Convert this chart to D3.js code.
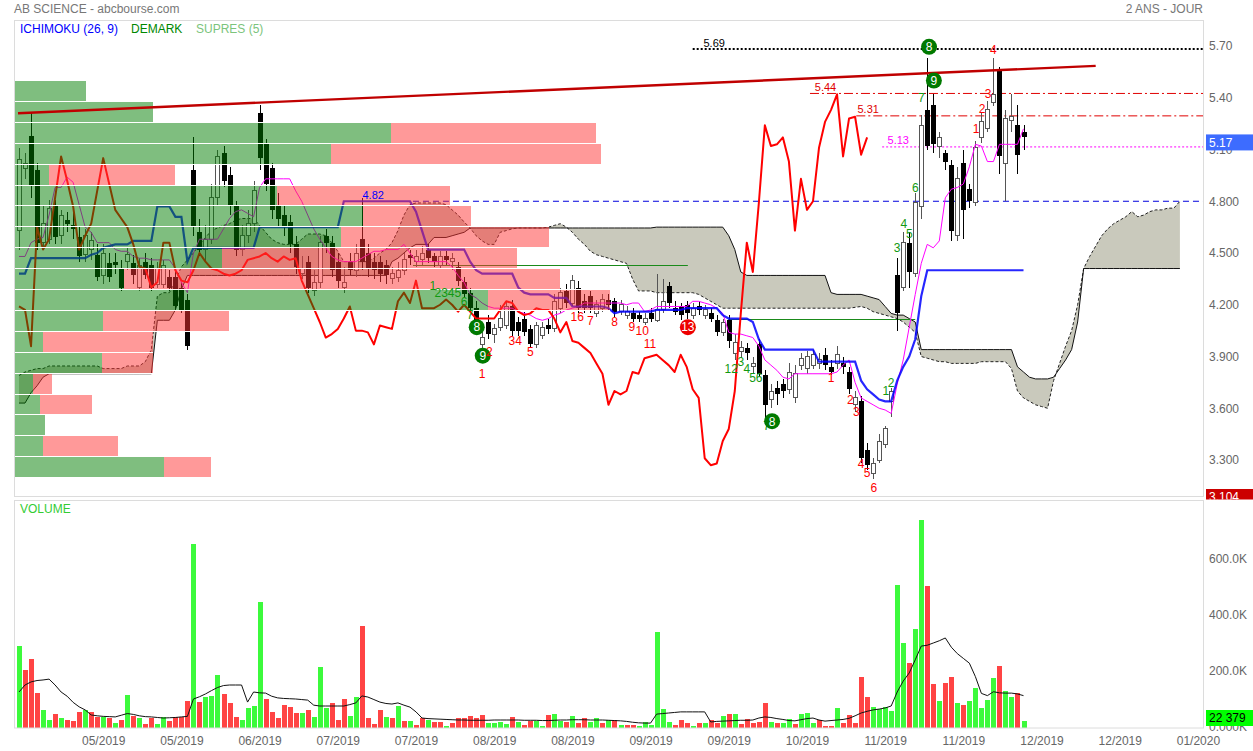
<!DOCTYPE html>
<html><head><meta charset="utf-8">
<script src="https://cdn.jsdelivr.net/npm/d3@7"></script>
<style>
html,body{margin:0;padding:0;background:#fff;}
svg{display:block;}
</style></head><body>
<svg id="c" width="1253" height="751"></svg>
<script>
// ---------------- DATA ----------------
const opens = [4.63,4.99,5.18,4.98,4.56,4.58,4.77,4.60,4.69,4.66,
 4.59,4.49,4.52,4.49,4.37,4.44,4.45,4.41,4.45,4.44,
 4.30,4.45,4.43,4.32,4.32,4.36,4.36,4.30,4.23,4.98,
 4.62,4.52,4.58,4.82,5.08,4.95,4.77,4.52,4.60,4.67,
 5.31,5.13,4.99,4.78,4.72,4.68,4.55,4.38,4.45,4.28,
 4.33,4.60,4.56,4.45,4.30,4.45,4.40,4.58,4.50,4.45,
 4.45,4.43,4.35,4.36,4.40,4.49,4.45,4.46,4.52,4.48,
 4.43,4.48,4.45,4.42,4.33,4.27,4.18,3.97,4.10,4.03,
 4.07,4.08,4.19,4.10,4.12,4.06,3.97,4.02,4.08,4.06,
 4.18,4.28,4.21,4.30,4.22,4.25,4.15,4.18,4.23,4.22,
 4.16,4.14,4.15,4.14,4.10,4.15,4.11,4.17,4.31,4.18,
 4.19,4.20,4.14,4.19,4.14,4.15,4.11,4.04,4.11,3.92,
 3.93,3.95,3.84,3.97,3.79,3.65,3.72,3.74,3.71,3.66,
 3.85,3.83,3.85,3.86,3.91,3.84,3.86,3.86,3.81,3.62,
 3.64,3.36,3.22,3.30,3.39,3.64,4.37,4.30,4.56,4.38,
 4.77,5.33,5.36,5.12,5.08,5.01,4.60,5.02,4.87,4.79,
 5.17,5.22,5.37,5.56,5.02,5.27,5.24,5.20];
const highs = [5.11,5.08,5.31,5.02,4.78,4.81,4.81,4.75,4.74,4.73,
 4.65,4.64,4.62,4.55,4.55,4.50,4.50,4.46,4.53,4.49,
 4.47,4.50,4.47,4.45,4.46,4.40,4.40,4.33,4.26,5.17,
 4.70,4.66,4.90,5.10,5.12,5.00,4.80,4.66,4.75,4.92,
 5.36,5.16,5.02,4.85,4.78,4.72,4.60,4.48,4.48,4.40,
 4.60,4.64,4.60,4.50,4.42,4.50,4.55,4.82,4.55,4.50,
 4.48,4.46,4.42,4.45,4.50,4.52,4.52,4.54,4.55,4.50,
 4.51,4.51,4.50,4.45,4.36,4.30,4.22,4.06,4.14,4.09,
 4.20,4.22,4.23,4.13,4.16,4.08,4.10,4.10,4.12,4.26,
 4.30,4.32,4.37,4.34,4.26,4.28,4.23,4.26,4.26,4.24,
 4.23,4.19,4.18,4.16,4.15,4.18,4.38,4.35,4.33,4.22,
 4.21,4.22,4.21,4.22,4.20,4.18,4.14,4.12,4.14,4.03,
 3.99,3.98,3.90,4.00,3.82,3.74,3.76,3.77,3.86,3.85,
 3.92,3.93,3.94,3.92,3.95,3.88,3.96,3.90,3.84,3.70,
 3.67,3.40,3.31,3.45,3.50,3.72,4.47,4.62,4.62,4.85,
 5.30,5.63,5.42,5.20,5.10,5.04,5.00,5.10,4.90,5.15,
 5.31,5.38,5.63,5.58,5.33,5.42,5.36,5.24];
const lows = [4.52,4.93,4.82,4.52,4.52,4.55,4.55,4.55,4.62,4.58,
 4.45,4.45,4.46,4.34,4.32,4.33,4.38,4.28,4.40,4.32,
 4.28,4.35,4.28,4.30,4.30,4.28,4.17,4.15,3.94,4.60,
 4.48,4.45,4.55,4.78,4.88,4.72,4.48,4.48,4.56,4.62,
 4.98,4.86,4.70,4.65,4.60,4.50,4.38,4.35,4.27,4.25,
 4.30,4.50,4.36,4.30,4.27,4.37,4.36,4.40,4.36,4.35,
 4.33,4.32,4.32,4.33,4.37,4.43,4.42,4.43,4.44,4.42,
 4.41,4.43,4.40,4.31,4.24,4.15,4.08,3.93,4.00,3.98,
 4.05,4.06,4.02,4.02,4.02,3.95,3.95,4.00,4.03,4.04,
 4.15,4.18,4.19,4.15,4.15,4.15,4.13,4.16,4.17,4.13,
 4.14,4.12,4.10,4.10,4.08,4.10,4.10,4.15,4.18,4.14,
 4.11,4.12,4.12,4.14,4.12,4.10,4.02,4.02,3.95,3.88,
 3.89,3.88,3.80,3.78,3.52,3.60,3.62,3.66,3.68,3.63,
 3.82,3.80,3.83,3.83,3.82,3.79,3.83,3.80,3.68,3.58,
 3.28,3.24,3.19,3.28,3.37,3.55,4.05,4.28,4.30,4.36,
 4.70,5.10,5.08,5.05,4.98,4.57,4.57,4.58,4.76,4.77,
 5.14,5.20,5.35,4.96,4.80,5.20,4.96,5.10];
const closes = [5.04,5.02,4.89,4.56,4.67,4.76,4.59,4.72,4.67,4.64,
 4.48,4.60,4.57,4.36,4.50,4.36,4.43,4.30,4.49,4.37,
 4.43,4.37,4.30,4.41,4.43,4.30,4.19,4.17,3.96,4.65,
 4.52,4.58,4.82,5.06,4.92,4.77,4.52,4.60,4.67,4.86,
 5.05,4.90,4.75,4.70,4.65,4.55,4.42,4.41,4.30,4.33,
 4.56,4.56,4.40,4.34,4.33,4.40,4.50,4.45,4.41,4.40,
 4.38,4.37,4.38,4.40,4.46,4.47,4.48,4.50,4.47,4.45,
 4.48,4.46,4.47,4.34,4.26,4.18,4.10,4.01,4.03,4.06,
 4.12,4.19,4.05,4.05,4.04,3.97,4.08,4.07,4.06,4.22,
 4.27,4.21,4.34,4.18,4.18,4.18,4.20,4.23,4.20,4.16,
 4.20,4.16,4.12,4.12,4.12,4.12,4.17,4.22,4.21,4.16,
 4.14,4.15,4.18,4.17,4.17,4.12,4.04,4.10,3.99,3.98,
 3.95,3.92,3.86,3.80,3.62,3.70,3.68,3.70,3.81,3.80,
 3.89,3.90,3.91,3.88,3.85,3.81,3.91,3.84,3.71,3.66,
 3.31,3.27,3.28,3.41,3.48,3.70,4.15,4.56,4.39,4.79,
 5.24,5.12,5.13,5.17,5.03,4.63,4.93,4.75,4.80,5.11,
 5.26,5.33,5.42,5.06,5.28,5.29,5.07,5.17];

// volume in thousands of shares
const volumes = [289,204,243,121,61,25,46,32,25,21,
 54,61,54,36,36,32,14,25,114,39,
 32,11,32,11,36,21,36,36,93,654,
 89,107,111,186,118,86,36,25,68,75,
 446,100,54,32,79,71,50,50,61,36,
 214,68,86,25,100,39,107,361,32,11,
 61,36,32,75,21,21,7,32,25,18,
 18,4,14,32,32,39,32,43,14,14,
 18,11,36,18,7,21,21,2,43,46,
 21,18,39,14,32,18,32,14,25,25,
 7,7,7,2,18,7,339,64,18,7,
 25,14,2,14,14,25,14,39,46,46,
 11,29,14,18,86,18,14,14,29,11,
 46,50,14,25,4,2,68,14,43,14,
 179,107,71,64,71,57,507,300,229,350,
 739,504,154,93,157,179,86,79,93,139,
 68,96,175,218,129,107,121,22];
const volumeUp = "GRRRGGRGRR"+"RGRRGRGRGR"+"GRRGGRRRRG"+"RGGGRRRGGG"+"GRRRRRRGRG"+
 "GGRRRGGRRR"+"RGRGRGRRGR"+"RGRRRRRRGG"+"GGRGRRGGRG"+"GRGRRGGRGR"+
 "GRRGGGGGGR"+"RRGRGRRGRG"+"RRRRRGRGGR"+"GGGRRRGRRR"+"RRGGGGGGRG"+
 "GRRGRRGRGG"+"GGGRGGRG";
const volumeMA = [125,150,161,166,168,171,150,125,110,88,
 72,61,43,40,38,37,36,42,48,45,
 40,37,36,34,32,33,34,36,38,100,
 108,118,130,141,148,150,150,150,89,125,
 122,121,110,104,102,101,100,98,96,78,
 75,75,75,75,75,80,86,111,107,98,
 89,84,82,86,78,71,54,32,30,29,
 28,27,26,25,25,24,24,24,24,25,
 25,25,25,25,24,24,24,23,23,24,
 25,25,26,26,26,25,25,25,24,23,
 22,20,17,15,14,14,46,48,50,52,
 54,54,54,54,54,18,20,21,22,23,
 24,24,25,32,36,34,30,27,23,22,
 26,30,32,25,21,23,25,27,31,40,
 50,56,61,64,68,75,125,164,193,240,
 289,292,300,308,318,285,262,245,228,180,
 120,112,126,122,121,121,118,112];

// Ichimoku (26, 9)
const tenkan = [4.48,4.48,4.56,4.58,4.59,4.72,4.88,4.88,4.94,4.91,
 4.78,4.65,4.62,4.56,4.56,4.56,4.52,4.51,4.51,4.48,
 4.47,4.47,4.46,4.46,4.46,4.46,4.41,4.33,4.27,4.50,
 4.58,4.58,4.58,4.58,4.64,4.70,4.74,4.75,4.73,4.71,
 4.88,4.93,4.93,4.93,4.93,4.93,4.86,4.80,4.72,4.64,
 4.58,4.53,4.48,4.46,4.45,4.45,4.45,4.47,4.49,4.51,
 4.51,4.52,4.52,4.52,4.55,4.50,4.45,4.45,4.45,4.45,
 4.45,4.45,4.42,4.37,4.33,4.26,4.24,4.21,4.19,4.18,
 4.18,4.18,4.18,4.16,4.15,4.14,4.12,4.11,4.12,4.14,
 4.15,4.17,4.18,4.19,4.21,4.21,4.21,4.21,4.21,4.21,
 4.21,4.20,4.21,4.21,4.16,4.17,4.19,4.19,4.19,4.19,
 4.19,4.19,4.22,4.22,4.21,4.20,4.18,4.15,4.04,4.03,
 4.03,4.02,4.01,3.96,3.88,3.85,3.82,3.78,3.77,3.80,
 3.80,3.80,3.80,3.80,3.80,3.80,3.81,3.85,3.88,3.75,
 3.66,3.64,3.62,3.60,3.59,3.57,3.74,3.88,4.07,4.26,
 4.44,4.55,4.53,4.57,4.82,4.87,4.88,4.90,5.00,5.13,
 5.12,5.03,5.03,5.13,5.13,5.13,5.13,5.22];
const kijun = [4.38,4.38,4.47,4.47,4.47,4.47,4.47,4.47,4.47,4.47,
 4.47,4.47,4.49,4.50,4.53,4.54,4.55,4.55,4.55,4.57,
 4.57,4.57,4.57,4.77,4.77,4.77,4.71,4.71,4.45,4.53,
 4.53,4.53,4.53,4.53,4.53,4.53,4.53,4.53,4.53,4.53,
 4.65,4.65,4.65,4.65,4.65,4.65,4.65,4.65,4.65,4.65,
 4.65,4.65,4.65,4.65,4.80,4.80,4.80,4.80,4.80,4.80,
 4.80,4.80,4.80,4.80,4.80,4.80,4.74,4.63,4.52,4.52,
 4.52,4.52,4.52,4.52,4.52,4.45,4.40,4.38,4.38,4.38,
 4.38,4.38,4.38,4.30,4.27,4.26,4.26,4.26,4.26,4.24,
 4.24,4.24,4.19,4.19,4.19,4.19,4.19,4.19,4.18,4.15,
 4.16,4.16,4.16,4.16,4.16,4.16,4.17,4.17,4.17,4.17,
 4.17,4.18,4.18,4.18,4.18,4.18,4.18,4.14,4.12,4.12,
 4.12,4.12,4.10,4.00,3.94,3.94,3.94,3.94,3.94,3.94,
 3.94,3.94,3.94,3.87,3.87,3.87,3.87,3.87,3.87,3.87,
 3.76,3.71,3.68,3.65,3.64,3.64,3.76,3.84,3.90,4.00,
 4.25,4.40,4.40,4.40,4.40,4.40,4.40,4.40,4.40,4.40,
 4.40,4.40,4.40,4.40,4.40,4.40,4.40,4.40];
// senkou spans, already displaced 26 periods forward (index 0..193)
const senkouA = [3.79,3.81,3.82,3.83,3.83,3.845,3.845,3.845,3.845,3.845,
 3.845,3.845,3.845,3.845,3.83,3.83,3.83,3.83,3.845,3.845,
 3.845,3.87,3.94,4.25,4.27,4.27,4.34,4.42,4.46,4.50,
 4.55,4.59,4.63,4.645,4.66,4.67,4.69,4.70,4.70,4.70,
 4.66,4.62,4.58,4.56,4.55,4.55,4.55,4.58,4.61,4.61,
 4.61,4.60,4.56,4.51,4.45,4.45,4.45,4.45,4.45,4.47,
 4.50,4.52,4.56,4.63,4.72,4.78,4.79,4.79,4.79,4.79,
 4.79,4.78,4.75,4.72,4.68,4.645,4.60,4.57,4.55,4.55,
 4.62,4.63,4.64,4.645,4.645,4.645,4.645,4.645,4.65,4.66,
 4.67,4.65,4.62,4.58,4.55,4.51,4.49,4.48,4.47,4.46,
 4.45,4.44,4.35,4.28,4.28,4.28,4.27,4.27,4.27,4.27,
 4.27,4.27,4.27,4.26,4.24,4.22,4.20,4.18,4.18,4.18,
 4.18,4.18,4.18,4.18,4.18,4.18,4.18,4.18,4.18,4.18,
 4.18,4.18,4.18,4.18,4.18,4.18,4.18,4.18,4.18,4.185,
 4.19,4.18,4.16,4.15,4.14,4.13,4.12,4.10,4.07,4.04,
 3.90,3.89,3.88,3.87,3.87,3.86,3.86,3.86,3.86,3.86,
 3.87,3.87,3.87,3.87,3.87,3.83,3.70,3.66,3.64,3.62,
 3.61,3.60,3.76,3.86,3.96,4.05,4.20,4.41,4.48,4.54,
 4.60,4.64,4.67,4.69,4.71,4.74,4.71,4.72,4.74,4.75,
 4.75,4.76,4.76,4.80];
const senkouB = [3.63,3.63,3.69,3.73,3.78,3.80,3.80,3.80,3.80,3.80,
 3.80,3.80,3.80,3.80,3.80,3.80,3.80,3.80,3.80,3.80,
 3.80,3.80,3.80,4.11,4.11,4.11,4.17,4.29,4.37,4.37,
 4.37,4.37,4.37,4.37,4.37,4.37,4.37,4.37,4.37,4.37,
 4.37,4.37,4.37,4.37,4.37,4.37,4.37,4.37,4.37,4.37,
 4.37,4.37,4.37,4.37,4.37,4.37,4.37,4.37,4.37,4.37,
 4.37,4.37,4.45,4.47,4.50,4.53,4.55,4.55,4.55,4.59,
 4.59,4.59,4.60,4.61,4.62,4.645,4.645,4.645,4.645,4.645,
 4.645,4.645,4.645,4.645,4.645,4.645,4.645,4.645,4.645,4.645,
 4.645,4.645,4.645,4.645,4.645,4.645,4.645,4.645,4.645,4.645,
 4.645,4.645,4.645,4.645,4.645,4.645,4.65,4.65,4.65,4.65,
 4.65,4.65,4.65,4.65,4.65,4.65,4.65,4.65,4.60,4.52,
 4.39,4.37,4.37,4.37,4.37,4.37,4.37,4.37,4.37,4.37,
 4.37,4.37,4.37,4.37,4.37,4.27,4.26,4.26,4.26,4.26,
 4.26,4.25,4.24,4.23,4.19,4.15,4.14,4.14,4.12,4.10,
 3.94,3.94,3.94,3.94,3.94,3.94,3.94,3.94,3.94,3.94,
 3.94,3.94,3.94,3.94,3.94,3.94,3.84,3.81,3.78,3.77,
 3.77,3.77,3.78,3.83,3.88,3.94,4.10,4.41,4.41,4.41,
 4.41,4.41,4.41,4.41,4.41,4.41,4.41,4.41,4.41,4.41,
 4.41,4.41,4.41,4.41];
const chikouShift = 26;

// Volume-at-price profile (SUPRES), bins from the top price downward, thousands of shares
const profileTop = 5.503;
const profileStep = 0.1212;
const profileUp   = [720,1390,3770,3170,350,2630,3490,3270,2080,1100,4740,890,290,880,190,260,310,290,1500];
const profileDown = [0,0,2050,2700,1260,1730,1080,2080,2950,4360,1220,1260,1100,510,190,520,0,750,470];

// support/resistance levels (line value, label)
const levelValues = [5.682, 5.425, 5.295, 5.115, 4.80];
const levelLabels = ["5.69","5.44","5.31","5.13","4.82"];
const levelStart  = [112, 131.5, 139.2, 143.5, 65.5];
const levelLabelAt= [113.8, 132.3, 139.4, 144.4, 57.1];
// DeMark TDST lines
const tdstValues = [4.43, 4.12];
const tdstFrom = [65.5, 117.9];
const tdstTo = [111.2, 149];
// trend line (index, price)
const trendFrom = [0, 5.31];
const trendTo = [179, 5.585];

// DeMark counts: [index, price, text, colour, circled]
const demark = [[68.8,4.31,'1','g',0],[71.3,4.27,'2345','g',0],[74,4.22,'6','g',0],[75,4.14,'7','g',0],
 [76.1,4.07,'8','g',1],[77.1,3.905,'9','g',1],[78.2,3.93,'2','r',0],[77,3.80,'1','r',0],[82.5,3.99,'34','r',0],
 [85,3.93,'5','r',0],[92.8,4.13,'16','r',0],[95,4.11,'7','r',0],[99,4.10,'8','r',0],[101.9,4.07,'9','r',0],
 [103.6,4.05,'10','r',0],[104.9,3.975,'11','r',0],[111.2,4.07,'13','r',1],[118.4,3.83,'12','g',0],
 [120,3.87,'3','g',0],[121,3.83,'4','g',0],[122.5,3.78,'56','g',0],[124.3,3.50,'7','g',0],[125.2,3.525,'8','g',1],
 [135,3.78,'1','r',0],[138.2,3.65,'2','r',0],[139.2,3.58,'3','r',0],[140,3.28,'4','r',0],[141,3.225,'5','r',0],
 [142.1,3.14,'6','r',0],[144.1,3.70,'1','g',0],[145,3.75,'2','g',0],[146,4.53,'3','g',0],[147.1,4.67,'4','g',0],
 [148,4.61,'5','g',0],[149,4.88,'6','g',0],[150,5.40,'7','g',0],[151.3,5.695,'8','g',1],[152.1,5.50,'9','g',1],
 [159.1,5.22,'1','r',0],[160.1,5.335,'2','r',0],[161.1,5.425,'3','r',0],[162,5.68,'4','r',0]];

// axes
const yTickValues = [5.70,5.40,5.10,4.80,4.50,4.20,3.90,3.60,3.30];
const yTickLabels = ["5.70","5.40","5.10","4.800","4.500","4.200","3.900","3.600","3.300"];
const vTickValues = [600,400,200,0];
const vTickLabels = ["600.0K","400.0K","200.0K","0.000K"];
const xTickIndex = [14,27,40,53,66,79,92,105,118,131,144,157,170,183,196];
const xTickLabels = ["05/2019","05/2019","06/2019","07/2019","07/2019","08/2019","08/2019","09/2019",
 "09/2019","10/2019","11/2019","11/2019","12/2019","12/2019","01/2020"];
const lastPriceLabel = "5.17";
const minPriceLabel = "3.104";
const lastVolumeLabel = "22 379";

// ---------------- DRAW ----------------
const FONT = '"Liberation Sans", Arial, Helvetica, sans-serif';
const svg = d3.select('#c').style('font-family', FONT);
const M = {l:14, r:1204, t:20, b:496};
const V = {t:500, b:728};
const x = d3.scaleLinear().domain([0,196]).range([19, 19 + 196*6.015]);
const y = d3.scaleLinear().domain([3.30,5.70]).range([460,46]);
const yv = d3.scaleLinear().domain([0,600]).range([727,559]);
const pw = d3.scaleLinear().domain([0,10000]).range([0,1000]);
const cx = i => Math.round(x(i));

const defs = svg.append('defs');
defs.append('clipPath').attr('id','cm').append('rect')
  .attr('x',M.l).attr('y',M.t).attr('width',M.r-M.l).attr('height',M.b-M.t);
defs.append('clipPath').attr('id','cv').append('rect')
  .attr('x',M.l).attr('y',V.t).attr('width',M.r-M.l).attr('height',V.b-V.t);
defs.append('clipPath').attr('id','cbox').append('rect')
  .attr('x',1190).attr('y',480).attr('width',70).attr('height',19.5);

const gM = svg.append('g').attr('clip-path','url(#cm)');

// cloud
const kAll = d3.range(senkouA.length);
gM.append('path')
  .attr('d', d3.area().x(k=>x(k)).y0(k=>y(senkouB[k])).y1(k=>y(senkouA[k]))(kAll))
  .attr('fill','#c9c9bc');
gM.append('path').attr('d', d3.line().x(k=>x(k)).y(k=>y(senkouA[k]))(kAll))
  .attr('fill','none').attr('stroke','#222').attr('stroke-width',1).attr('stroke-dasharray','3,2');
gM.append('path').attr('d', d3.line().x(k=>x(k)).y(k=>y(senkouB[k]))(kAll))
  .attr('fill','none').attr('stroke','#111').attr('stroke-width',1);

// levels
const levelStyle = [
  {c:'#000', w:2, d:'2,2'}, {c:'#e00000', w:1, d:'9,3,2,3'}, {c:'#e00000', w:1, d:'9,3,2,3'},
  {c:'#ff00ff', w:1, d:'2,2'}, {c:'#0000dd', w:1, d:'6,4'}];
levelValues.forEach((v,j)=>{
  gM.append('line').attr('x1',x(levelStart[j])).attr('x2',M.r).attr('y1',y(v)).attr('y2',y(v))
    .attr('stroke',levelStyle[j].c).attr('stroke-width',levelStyle[j].w).attr('stroke-dasharray',levelStyle[j].d);
});
tdstValues.forEach((v,j)=>{
  gM.append('line').attr('x1',x(tdstFrom[j])).attr('x2',x(tdstTo[j])).attr('y1',Math.round(y(v))+0.5).attr('y2',Math.round(y(v))+0.5)
    .attr('stroke','#1a8a1a').attr('stroke-width',1);
});

// candles
const gC = gM.append('g').attr('shape-rendering','crispEdges');
closes.forEach((c,i)=>{
  const o = opens[i], up = c >= o, X = cx(i);
  gC.append('line').attr('x1',X+0.5).attr('x2',X+0.5).attr('y1',y(highs[i])).attr('y2',y(lows[i]))
    .attr('stroke', up ? '#555' : '#000').attr('stroke-width',1);
  const top = y(Math.max(o,c)), h = Math.max(1, Math.abs(y(o)-y(c)));
  if (up) {
    gC.append('rect').attr('x',X-1.5).attr('y',top).attr('width',4).attr('height',h)
      .attr('fill','#fff').attr('stroke','#555').attr('stroke-width',1);
  } else {
    gC.append('rect').attr('x',X-2).attr('y',top).attr('width',5).attr('height',h).attr('fill','#000');
  }
});

// tenkan, kijun, chikou
gM.append('path').attr('d', d3.line().x((d,k)=>x(k)).y(d=>y(d))(tenkan))
  .attr('fill','none').attr('stroke','#ff00ff').attr('stroke-width',1);
gM.append('path').attr('d', d3.line().x((d,k)=>x(k)).y(d=>y(d))(kijun))
  .attr('fill','none').attr('stroke','#0000ff').attr('stroke-width',2.2).attr('stroke-opacity',0.85);
const chikou = closes.slice(chikouShift).map((c,j)=>[j,c]);
gM.append('path').attr('d', d3.line().x(d=>x(d[0])).y(d=>y(d[1]))(chikou))
  .attr('fill','none').attr('stroke','#ff0000').attr('stroke-width',2).attr('stroke-linejoin','round');

// volume profile overlay
const gP = gM.append('g').attr('shape-rendering','crispEdges');
const rowW = r => (r<0||r>=profileUp.length) ? 0 : pw(profileUp[r]+profileDown[r]);
profileUp.forEach((u,r)=>{
  const yt = Math.round(y(profileTop - r*profileStep));
  const yb = Math.round(y(profileTop - (r+1)*profileStep));
  gP.append('rect').attr('x',M.l).attr('y',yt+1).attr('width',pw(u)).attr('height',yb-yt-1)
    .attr('fill','rgb(0,125,0)').attr('fill-opacity',0.5);
  if (profileDown[r] > 0)
    gP.append('rect').attr('x',M.l+pw(u)).attr('y',yt+1).attr('width',pw(profileDown[r])).attr('height',yb-yt-1)
      .attr('fill','rgb(255,51,51)').attr('fill-opacity',0.5);
});
for (let r=0; r<=profileUp.length; r++) {
  const yt = Math.round(y(profileTop - r*profileStep));
  const w = Math.max(rowW(r-1), rowW(r));
  gP.append('rect').attr('x',M.l).attr('y',yt).attr('width',w).attr('height',1).attr('fill','#fff');
}

// trend line
gM.append('line').attr('x1',x(trendFrom[0])-1).attr('y1',y(trendFrom[1]))
  .attr('x2',x(trendTo[0])).attr('y2',y(trendTo[1]))
  .attr('stroke','#c00000').attr('stroke-width',2.4);

// level labels
const levelTextColor = ['#000','#e00000','#e00000','#ff00ff','#0000ff'];
levelValues.forEach((v,j)=>{
  gM.append('text').attr('x',x(levelLabelAt[j])).attr('y',y(v)-2.5).text(levelLabels[j])
    .attr('font-size',11).attr('fill',levelTextColor[j]);
});

// DeMark labels
demark.forEach(d=>{
  const X = x(d[0]), Y = y(d[1]);
  const col = d[3]==='g' ? '#119911' : '#ff0000';
  if (d[4]) {
    gM.append('circle').attr('cx',X).attr('cy',Y).attr('r',8).attr('fill', d[3]==='g' ? '#007a00' : '#ee0000');
    gM.append('text').attr('x',X).attr('y',Y).attr('dy','0.36em').attr('text-anchor','middle')
      .attr('font-size',12).attr('fill','#fff').text(d[2]);
  } else {
    gM.append('text').attr('x',X).attr('y',Y).attr('dy','0.36em').attr('text-anchor','middle')
      .attr('font-size',12).attr('fill',col).text(d[2]);
  }
});

// volume panel
const gV = svg.append('g').attr('clip-path','url(#cv)').attr('shape-rendering','crispEdges');
volumes.forEach((v,i)=>{
  const top = Math.min(yv(v), 726);
  gV.append('rect').attr('x',cx(i)-2).attr('y',top).attr('width',5).attr('height',727-top+0.5)
    .attr('fill', volumeUp[i]==='G' ? '#3cfa3c' : '#ff4444');
});
svg.append('path').attr('d', d3.line().x((d,i)=>x(i)).y(d=>yv(d))(volumeMA))
  .attr('fill','none').attr('stroke','#111').attr('stroke-width',1);

// frames
svg.append('rect').attr('x',M.l+0.5).attr('y',M.t+0.5).attr('width',M.r-M.l-1).attr('height',M.b-M.t)
  .attr('fill','none').attr('stroke','#dcdcdc');
svg.append('rect').attr('x',M.l+0.5).attr('y',V.t+0.5).attr('width',M.r-M.l-1).attr('height',V.b-V.t-0.5)
  .attr('fill','none').attr('stroke','#dcdcdc');

// axes
function styleAxis(g){
  g.select('.domain').remove();
  g.selectAll('line').remove();
  g.selectAll('text').attr('fill','#666').style('font-size','12px').style('font-family',FONT);
}
svg.append('g').attr('transform',`translate(${M.r},0)`)
  .call(d3.axisRight(y).tickValues(yTickValues).tickFormat((d,i)=>yTickLabels[i]).tickSize(0).tickPadding(5))
  .call(styleAxis);
svg.append('g').attr('transform',`translate(${M.r},0)`)
  .call(d3.axisRight(yv).tickValues(vTickValues).tickFormat((d,i)=>vTickLabels[i]).tickSize(0).tickPadding(5))
  .call(styleAxis);
svg.append('g').attr('transform',`translate(0,${V.b})`)
  .call(d3.axisBottom(x).tickValues(xTickIndex).tickFormat((d,i)=>xTickLabels[i]).tickSize(0).tickPadding(8))
  .call(styleAxis);

// value boxes
const lastY = y(closes[closes.length-1]) + 5;
svg.append('rect').attr('x',1206).attr('y',lastY-8).attr('width',47).attr('height',16).attr('fill','#3d6cff');
svg.append('text').attr('x',1209).attr('y',lastY).attr('dy','0.36em').attr('font-size',12).attr('fill','#fff').text(lastPriceLabel);
const gb = svg.append('g').attr('clip-path','url(#cbox)');
gb.append('rect').attr('x',1206).attr('y',489).attr('width',47).attr('height',16).attr('fill','#cc0000');
gb.append('text').attr('x',1209).attr('y',497).attr('dy','0.36em').attr('font-size',12).attr('fill','#fff').text(minPriceLabel);
const lvY = Math.min(yv(volumes[volumes.length-1]), V.b-10);
svg.append('rect').attr('x',1206).attr('y',lvY-8).attr('width',47).attr('height',16).attr('fill','#00ff00');
svg.append('text').attr('x',1209).attr('y',lvY).attr('dy','0.36em').attr('font-size',12).attr('fill','#000').text(lastVolumeLabel);

// titles / legends
svg.append('text').attr('x',14).attr('y',13).attr('font-size',12).attr('fill','#777').text('AB SCIENCE - abcbourse.com');
svg.append('text').attr('x',1203).attr('y',13).attr('text-anchor','end').attr('font-size',12).attr('fill','#777').text('2 ANS - JOUR');
svg.append('text').attr('x',20).attr('y',33).attr('font-size',12).attr('fill','#0000ff').text('ICHIMOKU (26, 9)');
svg.append('text').attr('x',131).attr('y',33).attr('font-size',12).attr('fill','#008800').text('DEMARK');
svg.append('text').attr('x',196).attr('y',33).attr('font-size',12).attr('fill','#7cc47c').text('SUPRES (5)');
svg.append('text').attr('x',20).attr('y',513).attr('font-size',12).attr('fill','#33cc33').text('VOLUME');
</script>
</body></html>
